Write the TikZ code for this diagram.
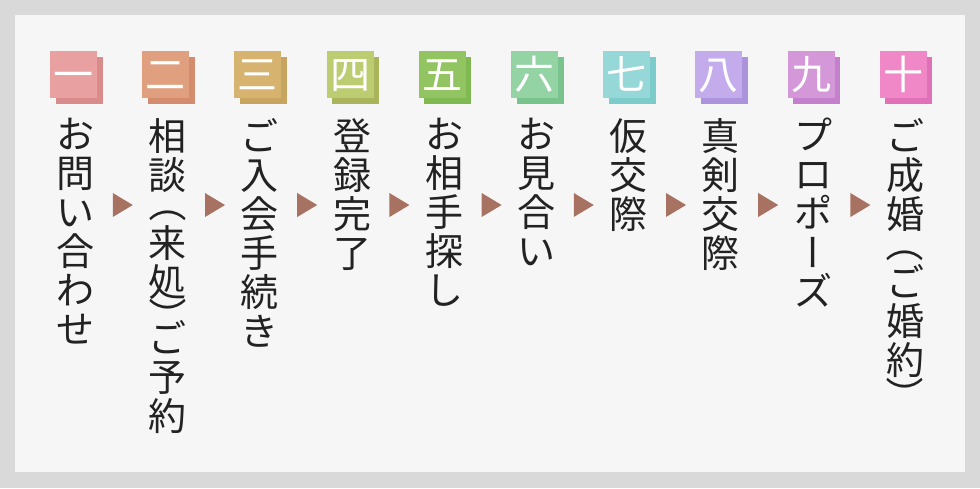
\documentclass[tikz,border=0pt]{standalone}
\usepackage{fontspec}
\usepackage{graphicx}
\usetikzlibrary{positioning,calc,shapes.geometric,shadows}
\newfontfamily\cjk{Noto Sans CJK JP}
\definecolor{outerbg}{HTML}{D9D9D9}
\definecolor{innerbg}{HTML}{F6F6F6}
\definecolor{ink}{HTML}{222222}
\definecolor{arrowc}{HTML}{A87262}
\definecolor{fa}{HTML}{E9A0A0}\definecolor{sa}{HTML}{D88C8C}
\definecolor{fb}{HTML}{E0A080}\definecolor{sb}{HTML}{D48C6E}
\definecolor{fc}{HTML}{D6B470}\definecolor{sc}{HTML}{C8A55F}
\definecolor{fd}{HTML}{BCCC70}\definecolor{sd}{HTML}{AAB45A}
\definecolor{fe}{HTML}{92C462}\definecolor{se}{HTML}{80B852}
\definecolor{ff}{HTML}{94D4A4}\definecolor{sf}{HTML}{78C48C}
\definecolor{fg}{HTML}{96D8D8}\definecolor{sg}{HTML}{7CCCCC}
\definecolor{fh}{HTML}{C4ACEC}\definecolor{sh}{HTML}{AC94DC}
\definecolor{fi}{HTML}{D498D8}\definecolor{si}{HTML}{C480CC}
\definecolor{fj}{HTML}{F088C8}\definecolor{sj}{HTML}{E070B8}
\newcommand\vrot[1]{\rotatebox[origin=c]{-90}{\rule[-0.12em]{0pt}{1em}#1}}
\newcommand\vop{\vrot{（}}
\newcommand\vcl{\vrot{）}}

\begin{document}
\begin{tikzpicture}[
  x=1pt, y=-1pt,
  node distance=20pt and 44.8pt,
  badge/.style 2 args={fill=#1, minimum size=47pt, inner sep=0pt, text=white,
    font=\cjk\fontsize{40pt}{40pt}\selectfont, text height=32pt, text depth=1.6pt,
    general shadow={fill=#2, shadow xshift=5.5pt, shadow yshift=-5.5pt}},
  coltext/.style={align=center, inner sep=0pt, text=ink, xshift=2pt,
    font=\cjk\fontsize{38pt}{39pt}\selectfont},
  nextmark/.style={isosceles triangle, isosceles triangle stretches, fill=arrowc,
    inner sep=0pt, minimum width=24pt, minimum height=20pt}
]
\fill[outerbg] (0,0) rectangle (980,488);
\fill[innerbg] (15,15) rectangle (965,472);

\node[badge={fa}{sa}] (b1) at (73.5,74.5) {一};
\node[badge={fb}{sb}, right=of b1] (b2) {二};
\node[badge={fc}{sc}, right=of b2] (b3) {三};
\node[badge={fd}{sd}, right=of b3] (b4) {四};
\node[badge={fe}{se}, right=of b4] (b5) {五};
\node[badge={ff}{sf}, right=of b5] (b6) {六};
\node[badge={fg}{sg}, right=of b6] (b7) {七};
\node[badge={fh}{sh}, right=of b7] (b8) {八};
\node[badge={fi}{si}, right=of b8] (b9) {九};
\node[badge={fj}{sj}, right=of b9] (b10) {十};

\node[coltext, below=of b1] (t1) {お\\問\\い\\合\\わ\\せ};
\node[coltext, below=of b2] (t2) {相\\談\\[-10pt]\vop\\来\\処\\[-4pt]\vcl\\[-18pt]ご\\予\\約};
\node[coltext, below=of b3] (t3) {ご\\入\\会\\手\\続\\き};
\node[coltext, below=of b4] (t4) {登\\録\\完\\了};
\node[coltext, below=of b5] (t5) {お\\相\\手\\探\\し};
\node[coltext, below=of b6] (t6) {お\\見\\合\\い};
\node[coltext, below=of b7] (t7) {仮\\交\\際};
\node[coltext, below=of b8] (t8) {真\\剣\\交\\際};
\node[coltext, below=of b9] (t9) {プ\\ロ\\ポ\\\vrot{ー}\\ズ};
\node[coltext, below=of b10] (t10) {ご\\成\\婚\\[-10pt]\vop\\ご\\婚\\約\\[-4pt]\vcl};

\node[nextmark, yshift=-130.5pt] (m1) at ($(b1)!0.5!(b2)$) {};
\node[nextmark, yshift=-130.5pt] (m2) at ($(b2)!0.5!(b3)$) {};
\node[nextmark, yshift=-130.5pt] (m3) at ($(b3)!0.5!(b4)$) {};
\node[nextmark, yshift=-130.5pt] (m4) at ($(b4)!0.5!(b5)$) {};
\node[nextmark, yshift=-130.5pt] (m5) at ($(b5)!0.5!(b6)$) {};
\node[nextmark, yshift=-130.5pt] (m6) at ($(b6)!0.5!(b7)$) {};
\node[nextmark, yshift=-130.5pt] (m7) at ($(b7)!0.5!(b8)$) {};
\node[nextmark, yshift=-130.5pt] (m8) at ($(b8)!0.5!(b9)$) {};
\node[nextmark, yshift=-130.5pt] (m9) at ($(b9)!0.5!(b10)$) {};
\end{tikzpicture}
\end{document}
